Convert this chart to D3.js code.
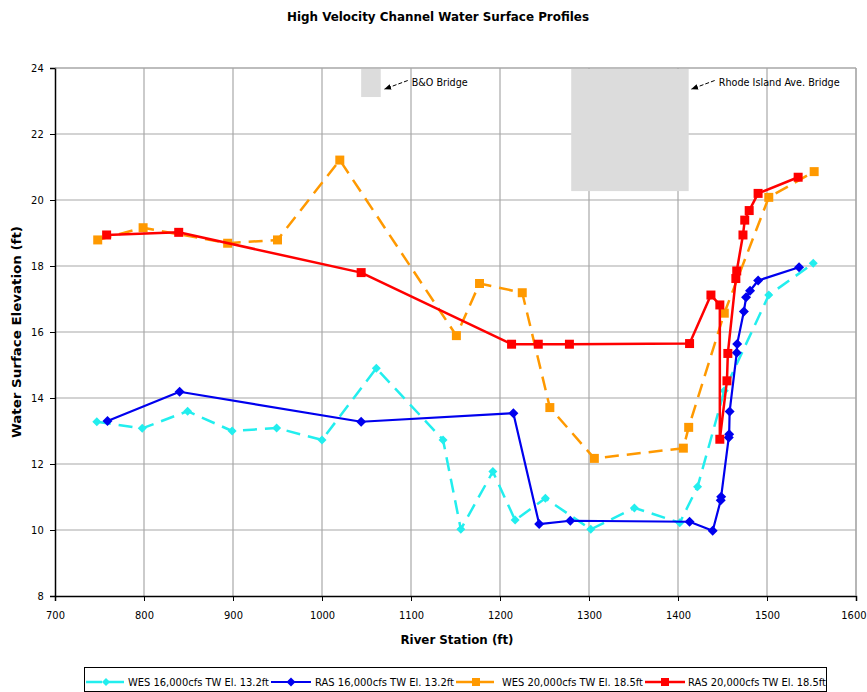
<!DOCTYPE html>
<html><head><meta charset="utf-8">
<script src="https://cdn.jsdelivr.net/npm/d3@7/dist/d3.min.js"></script>
<style>
body{margin:0;background:#fff;}
svg{display:block;font-family:"Liberation Sans Narrow","Arial Narrow","DejaVu Sans Condensed",sans-serif;}
</style></head>
<body><svg id="c" width="867" height="692"></svg>
<script>
// ---- data ----
const wes16Station = [747, 798, 849, 899, 949, 1000, 1061, 1136, 1156, 1192, 1217, 1251, 1302, 1351, 1402, 1422, 1452, 1502, 1552];
const wes16Elev    = [13.28, 13.08, 13.6, 13.0, 13.09, 12.73, 14.9, 12.73, 10.02, 11.77, 10.3, 10.96, 10.02, 10.67, 10.22, 11.31, 14.22, 17.12, 18.08];
const ras16Station = [759, 840, 1044, 1215, 1244, 1279, 1413, 1439, 1448, 1448.5, 1457, 1457.5, 1458, 1466, 1466.5, 1474, 1476.5, 1481, 1490, 1536];
const ras16Elev    = [13.3, 14.19, 13.28, 13.54, 10.18, 10.28, 10.25, 9.98, 10.9, 11.01, 12.8, 12.9, 13.59, 15.37, 15.64, 16.62, 17.05, 17.25, 17.56, 17.96];
const wes20Station = [748, 799, 894, 950, 1020, 1151, 1177, 1225, 1256, 1306, 1406, 1412, 1452, 1502, 1553];
const wes20Elev    = [18.79, 19.16, 18.69, 18.79, 21.21, 15.89, 17.47, 17.19, 13.71, 12.17, 12.48, 13.11, 16.57, 20.08, 20.86];
const ras20Station = [758, 839, 1044, 1213, 1243, 1278, 1413, 1437, 1447, 1447, 1455, 1456, 1465, 1466, 1473, 1475, 1480, 1490, 1535];
const ras20Elev    = [18.94, 19.02, 17.8, 15.63, 15.63, 15.63, 15.65, 17.12, 16.82, 12.75, 14.52, 15.35, 17.62, 17.85, 18.94, 19.39, 19.68, 20.2, 20.69];
const seriesNames  = ["WES 16,000cfs TW El. 13.2ft", "RAS 16,000cfs TW El. 13.2ft", "WES 20,000cfs TW El. 18.5ft", "RAS 20,000cfs TW El. 18.5ft"];
const xTicks = [700, 800, 900, 1000, 1100, 1200, 1300, 1400, 1500, 1600];
const yTicks = [8, 10, 12, 14, 16, 18, 20, 22, 24];
const bridgeNames = ["B&O Bridge", "Rhode Island Ave. Bridge"];
const bridgeStart = [1044, 1280];
const bridgeEnd   = [1066, 1412];
const bridgeLow   = [23.12, 20.27];

// ---- layout ----
const svg = d3.select("#c");
const L = 55, R = 856, T = 68, B = 596;
const x = d3.scaleLinear().domain([700, 1600]).range([L, R]);
const y = d3.scaleLinear().domain([8, 24]).range([B, T]);

const styles = [
  {color:"#22EEEE", dash:"14,8", width:2.5, marker:"diamond", msize:4.5},
  {color:"#0000EE", dash:null, width:2.2, marker:"diamond", msize:5},
  {color:"#FF9900", dash:"14,8", width:2.5, marker:"square", msize:4.5},
  {color:"#FF0000", dash:null, width:2.5, marker:"square", msize:4.5}
];
const seriesData = [
  d3.zip(wes16Station, wes16Elev),
  d3.zip(ras16Station, ras16Elev),
  d3.zip(wes20Station, wes20Elev),
  d3.zip(ras20Station, ras20Elev)
];

// title
svg.append("text").attr("x", 438).attr("y", 21).attr("text-anchor","middle")
  .attr("font-size", 13).attr("font-weight","bold").attr("textLength", 302).attr("lengthAdjust","spacingAndGlyphs")
  .text("High Velocity Channel Water Surface Profiles");

// grid
const g = svg.append("g");
g.selectAll(".vg").data(xTicks.slice(1)).join("line")
  .attr("x1", d=>x(d)).attr("x2", d=>x(d)).attr("y1", T).attr("y2", B)
  .attr("stroke","#a8a8a8").attr("stroke-width",1.2);
g.selectAll(".hg").data(yTicks.slice(1)).join("line")
  .attr("x1", L).attr("x2", R).attr("y1", d=>y(d)).attr("y2", d=>y(d))
  .attr("stroke","#a8a8a8").attr("stroke-width",1.2);

// bridges
svg.selectAll(".br").data(bridgeNames).join("rect")
  .attr("x", (d,i)=>x(bridgeStart[i])).attr("width",(d,i)=>x(bridgeEnd[i])-x(bridgeStart[i]))
  .attr("y", y(24)+1).attr("height",(d,i)=>y(bridgeLow[i])-y(24)-1)
  .attr("fill","#dcdcdc");

// axes
const xAxis = d3.axisBottom(x).tickValues(xTicks).tickSize(5).tickFormat(d3.format("d"));
const yAxis = d3.axisLeft(y).tickValues(yTicks).tickSize(5).tickFormat(d3.format("d"));
const gx = svg.append("g").attr("transform",`translate(0,${B})`).call(xAxis);
const gy = svg.append("g").attr("transform",`translate(${L},0)`).call(yAxis);
[gx, gy].forEach(a=>{
  a.select(".domain").attr("stroke","#000").attr("stroke-width",1.5);
  a.selectAll(".tick line").attr("stroke","#000");
  a.selectAll("text").attr("font-size",11).attr("fill","#000")
   .attr("font-family",'"Liberation Sans Narrow","Arial Narrow","DejaVu Sans Condensed",sans-serif');
});
gx.selectAll("text").attr("dy","1.35em");
gx.selectAll(".tick").filter(d=>d===1600).select("text").attr("text-anchor","end").attr("dx", 10);
gy.selectAll("text").attr("dx","-0.3em");
// top and right frame
svg.append("line").attr("x1",L).attr("x2",R).attr("y1",T).attr("y2",T).attr("stroke","#a8a8a8").attr("stroke-width",1.2);
svg.append("line").attr("x1",R).attr("x2",R).attr("y1",T).attr("y2",B).attr("stroke","#a8a8a8").attr("stroke-width",1.2);

// axis titles
svg.append("text").attr("x", 457).attr("y", 644).attr("text-anchor","middle")
  .attr("font-size",13).attr("font-weight","bold").attr("textLength",113).attr("lengthAdjust","spacingAndGlyphs")
  .text("River Station (ft)");
svg.append("text").attr("transform","translate(21,332) rotate(-90)").attr("text-anchor","middle")
  .attr("font-size",13).attr("font-weight","bold").attr("textLength",212).attr("lengthAdjust","spacingAndGlyphs")
  .text("Water Surface Elevation (ft)");

// annotations
const defs = svg.append("defs");
defs.append("marker").attr("id","arr").attr("viewBox","0 0 10 10").attr("refX",9).attr("refY",5)
  .attr("markerWidth",7).attr("markerHeight",7).attr("orient","auto-start-reverse")
  .append("path").attr("d","M0,1 L10,5 L0,9 z").attr("fill","#000");
const annX = [x(bridgeEnd[0]) + 4, x(bridgeEnd[1]) + 3];
svg.selectAll(".ann").data(bridgeNames).join("line")
  .attr("x1",(d,i)=>annX[i]+23).attr("y1",80.5).attr("x2",(d,i)=>annX[i]).attr("y2",89)
  .attr("stroke","#000").attr("stroke-width",1).attr("stroke-dasharray","4,2").attr("marker-end","url(#arr)");
const annW = [56, 121];
svg.selectAll(".annt").data(bridgeNames).join("text")
  .attr("x",(d,i)=>annX[i]+27).attr("y",86).attr("font-size",10.5)
  .attr("textLength",(d,i)=>annW[i]).attr("lengthAdjust","spacingAndGlyphs")
  .text(d=>d);

// series
const line = d3.line().x(d=>x(d[0])).y(d=>y(d[1]));
function markerPath(type, s){
  if(type==="diamond") return `M0,${-s}L${s},0L0,${s}L${-s},0Z`;
  return `M${-s},${-s}H${s}V${s}H${-s}Z`;
}
seriesData.forEach((data,i)=>{
  const st = styles[i];
  const sg = svg.append("g");
  sg.append("path").datum(data).attr("d",line).attr("fill","none")
    .attr("stroke",st.color).attr("stroke-width",st.width)
    .attr("stroke-dasharray",st.dash).attr("stroke-linejoin","round");
  sg.selectAll("path.m").data(data).join("path").attr("class","m")
    .attr("transform",d=>`translate(${x(d[0])},${y(d[1])})`)
    .attr("d",markerPath(st.marker, st.msize)).attr("fill",st.color);
});

// legend
const lg = svg.append("g");
lg.append("rect").attr("x",84.5).attr("y",667.5).attr("width",742).attr("height",24)
  .attr("fill","#fff").attr("stroke","#000").attr("stroke-width",1);
const sampleX = [86, 271, 456, 645];
const textX = [128, 315, 502, 688];
const textW = [141, 139, 141, 138];
seriesNames.forEach((n,i)=>{
  const st = styles[i];
  lg.append("line").attr("x1",sampleX[i]).attr("x2",sampleX[i]+40).attr("y1",682).attr("y2",682)
    .attr("stroke",st.color).attr("stroke-width",st.width)
    .attr("stroke-dasharray", st.dash ? "16,6" : null);
  lg.append("path").attr("transform",`translate(${sampleX[i]+20},682)`)
    .attr("d",markerPath(st.marker, st.msize-0.5)).attr("fill",st.color);
  lg.append("text").attr("x",textX[i]).attr("y",686).attr("font-size",11)
    .attr("textLength",textW[i]).attr("lengthAdjust","spacingAndGlyphs").text(n);
});
</script></body></html>
